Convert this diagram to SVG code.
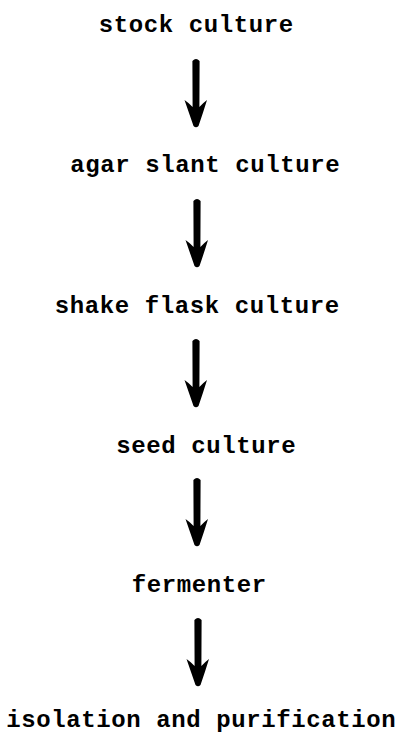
<svg xmlns="http://www.w3.org/2000/svg" width="407" height="734" viewBox="0 0 407 734">
  <style>
    .label { font-family: "Liberation Mono", "DejaVu Sans Mono", monospace; font-weight: bold; font-size: 24px; letter-spacing: 0.6px; fill: #000; text-anchor: middle; }
    .arrow { fill: #000; }
  </style>
  <defs>
    <!-- downward arrow, origin at the tip, total length 68 -->
    <path id="down-arrow" d="M -3.6,-66 Q 0,-70 3.6,-66 L 3.4,-20 Q 7,-24 11,-27 Q 7,-14 2.5,-1 Q 0,1.5 -2.5,-1 Q -7,-14 -11.5,-27 Q -7,-24 -3.4,-20 Z"/>
  </defs>
  <rect width="407" height="734" fill="#fff"/>

  <g id="connectors">
    <use href="#down-arrow" class="arrow" x="196" y="127"/>
    <use href="#down-arrow" class="arrow" x="197" y="267"/>
    <use href="#down-arrow" class="arrow" x="196" y="407"/>
    <use href="#down-arrow" class="arrow" x="197" y="546"/>
    <use href="#down-arrow" class="arrow" x="198" y="686"/>
  </g>

  <g id="stock-culture"><text class="label" x="196.3" y="32">stock culture</text></g>
  <g id="agar-slant-culture"><text class="label" x="205.3" y="172">agar slant culture</text></g>
  <g id="shake-flask-culture"><text class="label" x="197.3" y="313">shake flask culture</text></g>
  <g id="seed-culture"><text class="label" x="206.3" y="453">seed culture</text></g>
  <g id="fermenter"><text class="label" x="199.3" y="592">fermenter</text></g>
  <g id="isolation-and-purification"><text class="label" x="201.3" y="727">isolation and purification</text></g>
</svg>
